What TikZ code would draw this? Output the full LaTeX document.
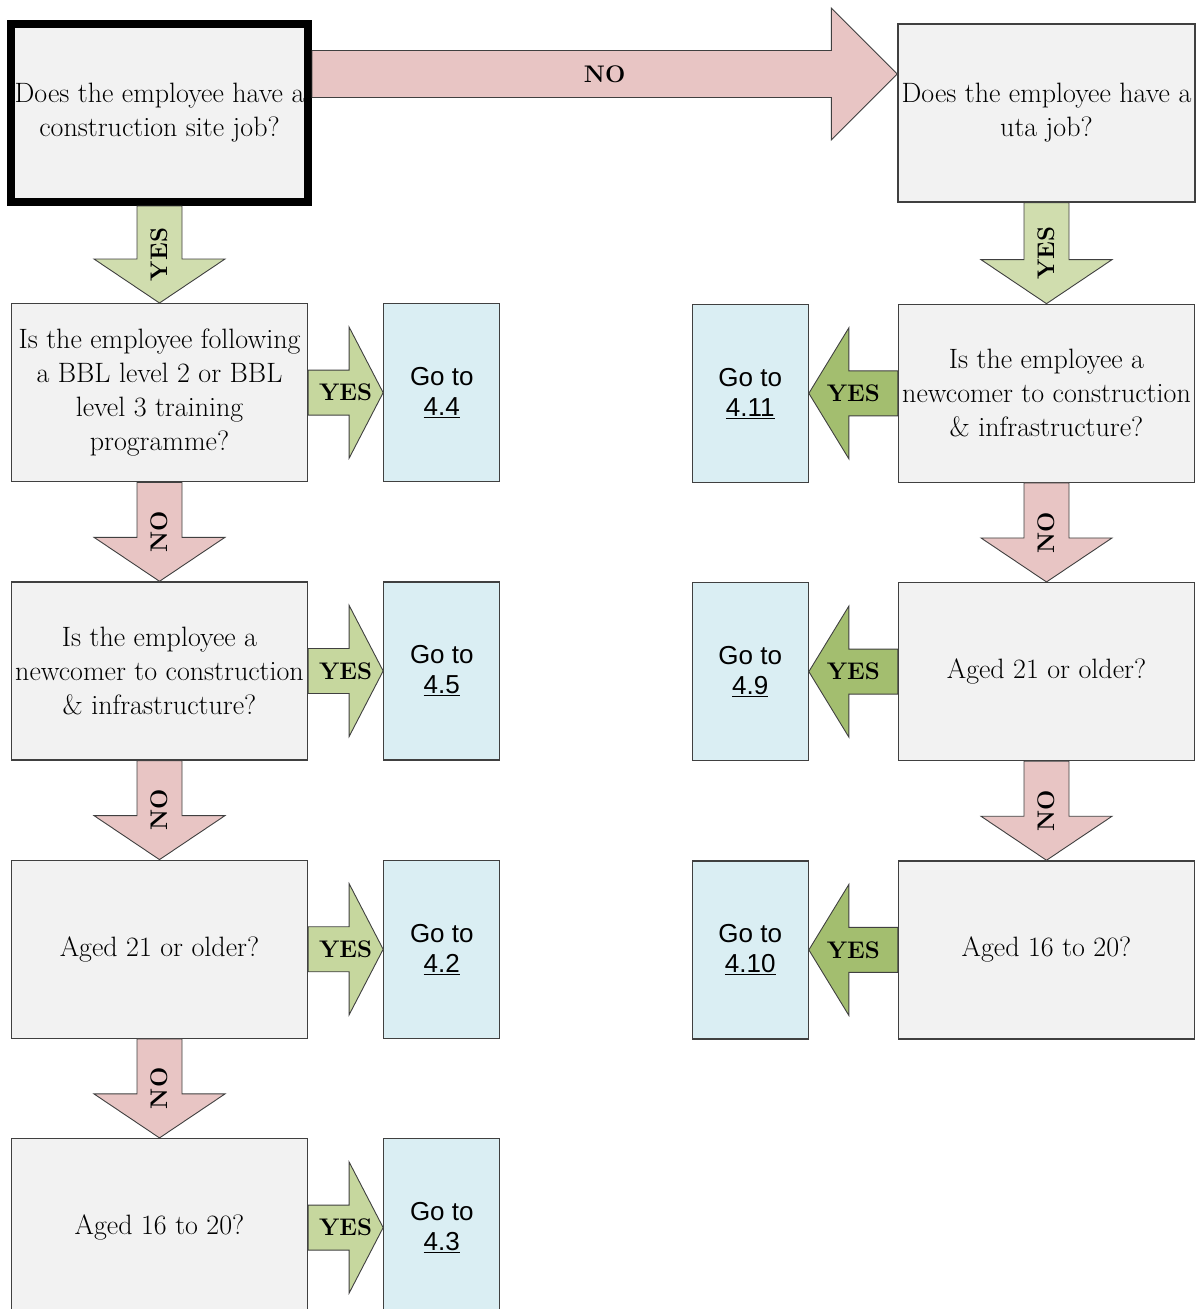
\documentclass[tikz,border=0pt]{standalone}
\usepackage{fontspec}
\newfontfamily\gotofont{Liberation Sans}
\usetikzlibrary{positioning,calc}

\definecolor{qgray}{HTML}{F2F2F2}
\definecolor{gotoblue}{HTML}{DAEEF3}
\definecolor{nopink}{HTML}{E8C5C4}
\definecolor{yeslight}{HTML}{D0DDAE}
\definecolor{yesmid}{HTML}{C6D79E}
\definecolor{yesdark}{HTML}{A3BE6F}
\definecolor{edge}{HTML}{404040}

\newcommand{\arrdown}[4]{%
\draw[blockarrow,fill=#3] ($(#1.south)+(-22.5,0)$) -- ($(#2.north)+(-22.5,-44)$)
  -- ($(#2.north)+(-65.5,-44)$) -- (#2.north) -- ($(#2.north)+(65.5,-44)$)
  -- ($(#2.north)+(22.5,-44)$) -- ($(#1.south)+(22.5,0)$) -- cycle;
\node[arrlabel,rotate=90] (#1#2) at ($(#1.south)!0.5!(#2.north)$) {#4};}

\newcommand{\arrright}[4]{%
\draw[blockarrow,fill=#3] ($(#1.east)+(0,-22.5)$) -- ($(#2.west)+(-34,-22.5)$)
  -- ($(#2.west)+(-34,-65.5)$) -- (#2.west) -- ($(#2.west)+(-34,65.5)$)
  -- ($(#2.west)+(-34,22.5)$) -- ($(#1.east)+(0,22.5)$) -- cycle;
\node[arrlabel] (#1#2) at ($(#1.east)!0.5!(#2.west)$) {#4};}

\newcommand{\arrleft}[4]{%
\draw[blockarrow,fill=#3] ($(#1.west)+(0,-22.5)$) -- ($(#2.east)+(40,-22.5)$)
  -- ($(#2.east)+(40,-65.5)$) -- (#2.east) -- ($(#2.east)+(40,65.5)$)
  -- ($(#2.east)+(40,22.5)$) -- ($(#1.west)+(0,22.5)$) -- cycle;
\node[arrlabel] (#1#2) at ($(#1.west)!0.5!(#2.east)$) {#4};}

\begin{document}
\begin{tikzpicture}[
x=1pt,y=-1pt,
quest/.style={
  draw=edge,
  line width=1.3pt,
  fill=qgray,
  minimum width=296pt,
  minimum height=178pt,
  inner sep=1pt,
  align=center,
  font=\fontsize{28}{34}\selectfont
},
goto/.style={
  draw=edge,
  line width=1.3pt,
  fill=gotoblue,
  minimum width=116pt,
  minimum height=178pt,
  align=center,
  font=\gotofont\fontsize{26}{30}\selectfont
},
blockarrow/.style={draw=edge,line width=0.9pt},
arrlabel/.style={inner sep=0pt,font=\bfseries\fontsize{24}{26}\selectfont},
node distance=99pt
]
\useasboundingbox (0,0) rectangle (1203,1309);

\node[quest,draw=black,line width=8pt,minimum width=297pt] (q0) at (159.5,113)
  {Does the employee have a\\construction site job?};
\node[quest,below=97pt of q0] (q1)
  {Is the employee following\\a BBL level 2 or BBL\\level 3 training\\programme?};
\node[quest,below=of q1] (q2)
  {Is the employee a\\newcomer to construction\\\& infrastructure?};
\node[quest,below=of q2] (q3) {Aged 21 or older?};
\node[quest,below=of q3] (q4) {Aged 16 to 20?};

\node[goto,right=75pt of q1] (g1) {Go to\\\underline{4.4}};
\node[goto,right=75pt of q2] (g2) {Go to\\\underline{4.5}};
\node[goto,right=75pt of q3] (g3) {Go to\\\underline{4.2}};
\node[goto,right=75pt of q4] (g4) {Go to\\\underline{4.3}};

\node[quest,minimum width=297pt] (r0) at (1046.5,113)
  {Does the employee have a\\uta job?};
\node[quest,below=101pt of r0] (r1)
  {Is the employee a\\newcomer to construction\\\& infrastructure?};
\node[quest,below=of r1] (r2) {Aged 21 or older?};
\node[quest,below=of r2] (r3) {Aged 16 to 20?};

\node[goto,left=89pt of r1] (h1) {Go to\\\underline{4.11}};
\node[goto,left=89pt of r2] (h2) {Go to\\\underline{4.9}};
\node[goto,left=89pt of r3] (h3) {Go to\\\underline{4.10}};

\coordinate (notail) at ($(q0.east)+(0,-39)$);
\coordinate (notip) at ($(r0.west)+(0,-39)$);
\draw[blockarrow,fill=nopink] ($(notail)+(0,-23.5)$) -- ($(notip)+(-66,-23.5)$)
  -- ($(notip)+(-66,-66)$) -- (notip) -- ($(notip)+(-66,66)$)
  -- ($(notip)+(-66,23.5)$) -- ($(notail)+(0,23.5)$) -- cycle;
\node[arrlabel] (nolab) at ($(notail)!0.5!(notip)$) {NO};

\arrdown{q0}{q1}{yeslight}{YES}
\arrdown{q1}{q2}{nopink}{NO}
\arrdown{q2}{q3}{nopink}{NO}
\arrdown{q3}{q4}{nopink}{NO}
\arrdown{r0}{r1}{yeslight}{YES}
\arrdown{r1}{r2}{nopink}{NO}
\arrdown{r2}{r3}{nopink}{NO}

\arrright{q1}{g1}{yesmid}{YES}
\arrright{q2}{g2}{yesmid}{YES}
\arrright{q3}{g3}{yesmid}{YES}
\arrright{q4}{g4}{yesmid}{YES}
\arrleft{r1}{h1}{yesdark}{YES}
\arrleft{r2}{h2}{yesdark}{YES}
\arrleft{r3}{h3}{yesdark}{YES}
\end{tikzpicture}
\end{document}
